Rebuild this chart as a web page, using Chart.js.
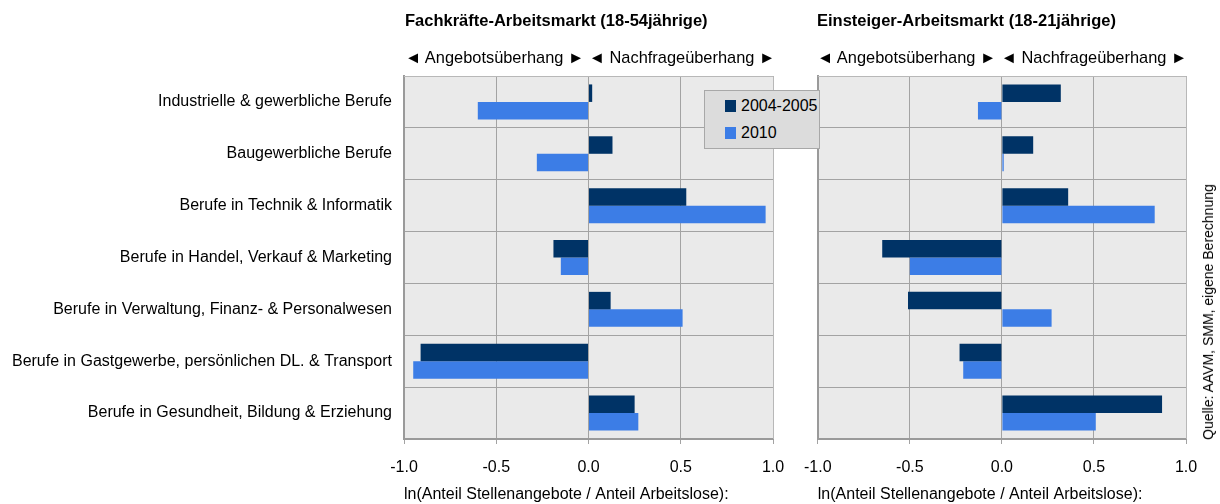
<!DOCTYPE html>
<html>
<head>
<meta charset="utf-8">
<script src="https://cdn.jsdelivr.net/npm/chart.js@4.4.1/dist/chart.umd.min.js"></script>
<style>
  body { margin: 0; width: 1220px; height: 504px; background: #fff; position: relative; overflow: hidden;
         font-family: "Liberation Sans", Arial, sans-serif; color: #000; }
  .cv { position: absolute; top: 0; }
  .head { position: absolute; font-size: 16.5px; font-weight: bold; top: 11px; white-space: nowrap; }
  .sub { position: absolute; font-size: 16.4px; top: 48px; white-space: nowrap; }
  #legend { position: absolute; left: 704px; top: 90px; width: 114px; height: 57px; background: #dcdcdc;
            border: 1px solid #a8a8a8; font-size: 16px; }
  #legend div { position: absolute; left: 20px; white-space: nowrap; line-height: 19px; }
  #legend span { display: inline-block; width: 11px; height: 12px; margin-right: 5px; vertical-align: -1px; }
  #source { position: absolute; left: 1208px; top: 312px; font-size: 14px; white-space: nowrap;
            transform: translate(-50%, -50%) rotate(-90deg); }
</style>
</head>
<body>
<canvas id="leftChart" class="cv" style="left:0px"></canvas>
<canvas id="rightChart" class="cv" style="left:790px"></canvas>
<div class="head" style="left:405px">Fachkräfte-Arbeitsmarkt (18-54jährige)</div>
<div class="head" style="left:817px">Einsteiger-Arbeitsmarkt (18-21jährige)</div>
<div class="sub" style="left:405px">◄ Angebotsüberhang ► ◄ Nachfrageüberhang ►</div>
<div class="sub" style="left:817px">◄ Angebotsüberhang ► ◄ Nachfrageüberhang ►</div>
<div id="legend">
  <div style="top:5px"><span style="background:#003366"></span>2004-2005</div>
  <div style="top:32px"><span style="background:#3c7de6"></span>2010</div>
</div>
<div id="source">Quelle: AAVM, SMM, eigene Berechnung</div>
<script>
const categories = [
  'Industrielle & gewerbliche Berufe',
  'Baugewerbliche Berufe',
  'Berufe in Technik & Informatik',
  'Berufe in Handel, Verkauf & Marketing',
  'Berufe in Verwaltung, Finanz- & Personalwesen',
  'Berufe in Gastgewerbe, persönlichen DL. & Transport',
  'Berufe in Gesundheit, Bildung & Erziehung'
];
const seriesNames = ['2004-2005', '2010'];
const fachkraefte0405 = [0.02, 0.13, 0.53, -0.19, 0.12, -0.91, 0.25];
const fachkraefte2010 = [-0.60, -0.28, 0.96, -0.15, 0.51, -0.95, 0.27];
const einsteiger0405 = [0.32, 0.17, 0.36, -0.65, -0.51, -0.23, 0.87];
const einsteiger2010 = [-0.13, 0.01, 0.83, -0.50, 0.27, -0.21, 0.51];
const xTicks = [-1.0, -0.5, 0.0, 0.5, 1.0];
const xTitle = 'ln(Anteil Stellenangebote / Anteil Arbeitslose):';

const FONT = '"Liberation Sans", Arial, sans-serif';
const DARK = '#003366', LIGHT = '#3c7de6', GRID = '#a3a3a3';

const plotBg = {
  id: 'plotBg',
  beforeDraw(chart) {
    const { ctx, chartArea: a } = chart;
    ctx.save();
    ctx.fillStyle = '#eaeaea';
    ctx.fillRect(a.left, a.top, a.right - a.left, a.bottom - a.top);
    ctx.restore();
  },
  afterDraw(chart) {
    const { ctx, chartArea: a } = chart;
    ctx.save();
    ctx.strokeStyle = '#b8b8b8';
    ctx.lineWidth = 1;
    ctx.beginPath();
    ctx.moveTo(a.left, a.top + 0.5); ctx.lineTo(a.right + 0.5, a.top + 0.5);
    ctx.lineTo(a.right + 0.5, a.bottom);
    ctx.stroke();
    ctx.restore();
  }
};

function makeChart(id, width, yWidth, showLabels, d0405, d2010) {
  const canvas = document.getElementById(id);
  canvas.width = width; canvas.height = 504;
  canvas.style.width = width + 'px'; canvas.style.height = '504px';
  return new Chart(canvas, {
    type: 'bar',
    data: {
      labels: categories,
      datasets: [
        { label: seriesNames[0], data: d0405, backgroundColor: DARK },
        { label: seriesNames[1], data: d2010, backgroundColor: LIGHT }
      ]
    },
    options: {
      indexAxis: 'y',
      responsive: false,
      animation: false,
      datasets: { bar: { categoryPercentage: 0.675, barPercentage: 1.0 } },
      layout: { padding: { top: 76, right: 30, left: 0, bottom: 0 } },
      plugins: { legend: { display: false }, tooltip: { enabled: false } },
      scales: {
        x: {
          min: -1, max: 1,
          afterBuildTicks: s => { s.ticks = xTicks.map(v => ({ value: v })); },
          afterFit: s => { s.height = 65; },
          grid: { color: GRID, tickLength: 5, tickColor: GRID },
          border: { color: '#9a9a9a', width: 2 },
          ticks: { color: '#000', font: { family: FONT, size: 16 }, padding: 14,
                   callback: v => Number(v).toFixed(1) },
          title: { display: true, text: xTitle, align: 'start', color: '#000',
                   font: { family: FONT, size: 16 }, padding: { top: 2, bottom: 0 } }
        },
        y: {
          afterFit: s => { s.width = yWidth; },
          grid: { color: GRID, drawTicks: false, offset: true },
          border: { color: '#9a9a9a', width: 2 },
          ticks: { display: showLabels, color: '#000', padding: 12,
                   font: { family: FONT, size: 16 } }
        }
      }
    },
    plugins: [plotBg]
  });
}

makeChart('leftChart', 803, 404, true, fachkraefte0405, fachkraefte2010);
makeChart('rightChart', 426, 27, false, einsteiger0405, einsteiger2010);
</script>
</body>
</html>
